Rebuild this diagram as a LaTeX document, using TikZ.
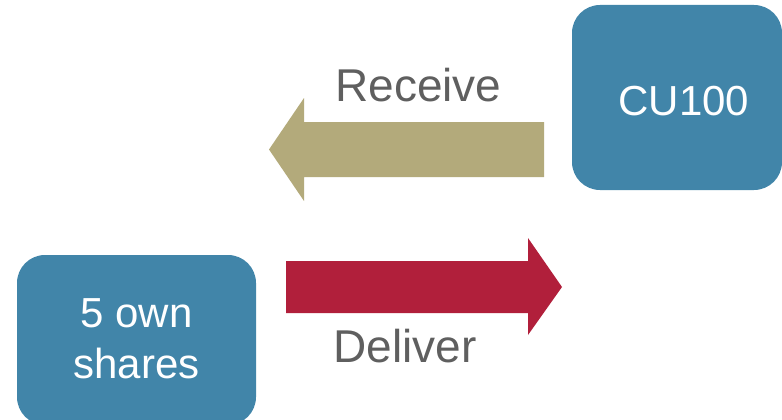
\documentclass[tikz,border=0pt]{standalone}
\usepackage{fontspec}
\setmainfont{Liberation Sans}
\definecolor{boxblue}{HTML}{4185A9}
\definecolor{khaki}{HTML}{B3AA7B}
\definecolor{crimson}{HTML}{B11F3B}
\definecolor{txtgrey}{HTML}{5F5F5F}
\begin{document}
\begin{tikzpicture}[x=1pt,y=-1pt,
  boxnode/.style={fill=boxblue,rounded corners=28pt,text=white,inner sep=0pt,align=center,
    font=\fontsize{42}{51}\selectfont},
  lbl/.style={text=txtgrey,anchor=base,inner sep=0pt,font=\fontsize{46}{55}\selectfont}]
\useasboundingbox (0,0) rectangle (782,420);
\begin{scope}
\clip (0,0) rectangle (782,420);
\node[boxnode,minimum width=210pt,minimum height=185pt] (cu) at (677,97.5) {};
\node[boxnode,minimum width=239pt,minimum height=170pt] (own) at (136.5,340) {};
\end{scope}
\node[text=white,anchor=base,inner sep=0pt,font=\fontsize{42}{51}\selectfont] (cutext) at (684,115) {CU100};
\node[text=white,inner sep=0pt,align=center,font=\fontsize{42}{51}\selectfont] (owntext) at (136.5,339) {5 own\\shares};
% Receive arrow
\fill[khaki] (544,122) -- (304,122) -- (304,98) -- (269,149.5) -- (304,201) -- (304,177) -- (544,177) -- cycle;
% Deliver arrow
\fill[crimson] (286,261) -- (528,261) -- (528,238) -- (562,287) -- (528,335) -- (528,313) -- (286,313) -- cycle;
\node[lbl] (recv) at (418.5,102) {Receive};
\node[lbl] (deliv) at (405,362) {Deliver};
\end{tikzpicture}
\end{document}
